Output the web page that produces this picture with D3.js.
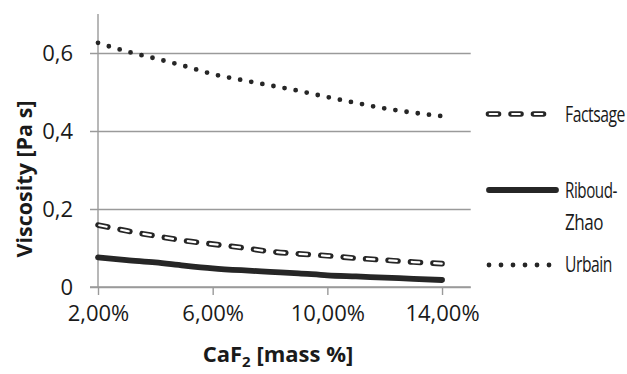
<!DOCTYPE html>
<html>
<head>
<meta charset="utf-8">
<script src="https://cdn.jsdelivr.net/npm/d3@7/dist/d3.min.js"></script>
<style>
  html, body { margin: 0; padding: 0; background: #fff; }
  svg { display: block; }
  text { font-family: "Open Sans", sans-serif; fill: #1a1a1a; }
</style>
</head>
<body>
<svg id="chart" width="627" height="374"></svg>
<script>
// CaF2 content (mass %) and modelled viscosity (Pa s) for each model
const categories = [2, 3, 4, 5, 6, 7, 8, 9, 10, 11, 12, 13, 14];
const factsage   = [0.159, 0.144, 0.131, 0.119, 0.110, 0.101, 0.091, 0.085, 0.080, 0.074, 0.069, 0.064, 0.060];
const riboudZhao = [0.076, 0.069, 0.063, 0.055, 0.048, 0.043, 0.039, 0.035, 0.030, 0.027, 0.024, 0.021, 0.018];
const urbain     = [0.626, 0.604, 0.586, 0.567, 0.546, 0.531, 0.517, 0.503, 0.487, 0.472, 0.458, 0.447, 0.438];
const seriesNames = ["Factsage", "Riboud-Zhao", "Urbain"];
const xTicks = [2, 6, 10, 14];
const yTicks = [0, 0.2, 0.4, 0.6];

const svg = d3.select("#chart");
const ink = "#262626";
const grid = "#9a9a9a";

const x = d3.scaleLinear().domain([2, 15]).range([98, 470.7]);
const y = d3.scaleLinear().domain([0, 0.7]).range([287, 14]);

// horizontal gridlines with left tick stubs
const yAxis = d3.axisLeft(y).tickValues(yTicks).tickSize(-(470.7 - 90))
  .tickFormat(d => d === 0 ? "0" : d3.format(".1f")(d).replace(".", ","));
const gy = svg.append("g").attr("transform", "translate(90,0)").call(yAxis);
gy.select(".domain").remove();
gy.selectAll(".tick line").attr("stroke", grid).attr("stroke-width", 1.4);
gy.selectAll(".tick text").attr("x", -17).attr("dy", "0.35em")
  .style("font-size", "22px").attr("fill", "#1a1a1a");

// vertical axis line
svg.append("line").attr("x1", x(2)).attr("x2", x(2)).attr("y1", y(0.7)).attr("y2", y(0))
  .attr("stroke", grid).attr("stroke-width", 1.4);

// category axis
const xAxis = d3.axisBottom(x).tickValues(xTicks).tickSize(8)
  .tickFormat(d => d3.format(".2f")(d).replace(".", ",") + "%");
const gx = svg.append("g").attr("transform", `translate(0,${y(0)})`).call(xAxis);
gx.select(".domain").attr("stroke", grid).attr("stroke-width", 1.4)
  .attr("d", `M${x(2) - 8},0H${x(15)}`);
gx.selectAll(".tick line").attr("stroke", grid).attr("stroke-width", 1.4);
gx.selectAll(".tick text").attr("y", 18).attr("dy", "0.71em")
  .style("font-size", "22px").attr("fill", "#1a1a1a");

const line = vals => d3.line()
  .x((d, i) => x(categories[i]))
  .y(d => y(d))
  .curve(d3.curveMonotoneX)(vals);

// Urbain: round dotted line
svg.append("path").attr("d", line(urbain)).attr("fill", "none")
  .attr("stroke", ink).attr("stroke-width", 4.8).attr("stroke-linecap", "round")
  .attr("stroke-dasharray", "0 11.3");

// Factsage: outlined dashes (dark dash with a white core)
function outlinedDash(sel, d) {
  sel.append("path").attr("d", d).attr("fill", "none")
    .attr("stroke", ink).attr("stroke-width", 5.6).attr("stroke-linecap", "round")
    .attr("stroke-dasharray", "10 12.5");
  sel.append("path").attr("d", d).attr("fill", "none")
    .attr("stroke", "#fff").attr("stroke-width", 2.2).attr("stroke-linecap", "round")
    .attr("stroke-dasharray", "7.5 15").attr("stroke-dashoffset", -1.25);
}
outlinedDash(svg, line(factsage));

// Riboud-Zhao: thick solid line
svg.append("path").attr("d", line(riboudZhao)).attr("fill", "none")
  .attr("stroke", ink).attr("stroke-width", 5.8).attr("stroke-linecap", "round");

// axis titles
svg.append("text")
  .attr("transform", "translate(32,179) rotate(-90)")
  .attr("text-anchor", "middle")
  .style("font-size", "21.5px").style("font-weight", "bold")
  .text("Viscosity [Pa s]");

const xt = svg.append("text").attr("x", 278).attr("y", 362)
  .attr("text-anchor", "middle")
  .style("font-size", "22px").style("font-weight", "bold");
xt.append("tspan").text("CaF");
xt.append("tspan").attr("dy", 5).style("font-size", "15px").text("2");
xt.append("tspan").attr("dy", -5).text(" [mass %]");

// legend
const lg = svg.append("g");
outlinedDash(lg, "M488.5,114H549");
lg.append("path").attr("d", "M489,190H556").attr("stroke", ink).attr("stroke-width", 5.8)
  .attr("stroke-linecap", "round").attr("fill", "none");
lg.append("path").attr("d", "M489,265H550").attr("stroke", ink).attr("stroke-width", 4.8)
  .attr("stroke-linecap", "round").attr("stroke-dasharray", "0 12").attr("fill", "none");

// legend labels are set in a narrow, horizontally condensed face
const legendLabels = [
  { t: "Factsage", y: 122, w: 60 },
  { t: "Riboud-", y: 198, w: 52 },
  { t: "Zhao", y: 230, w: 38 },
  { t: "Urbain", y: 272, w: 47 }
];
lg.selectAll("text.lab").data(legendLabels).enter().append("text")
  .attr("class", "lab")
  .style("font-size", "21px").style("letter-spacing", "-0.6px")
  .text(d => d.t)
  .each(function(d) {
    const natural = this.getComputedTextLength();
    d3.select(this).attr("transform", `translate(565,${d.y}) scale(${d.w / natural},1)`);
  });
</script>
</body>
</html>
